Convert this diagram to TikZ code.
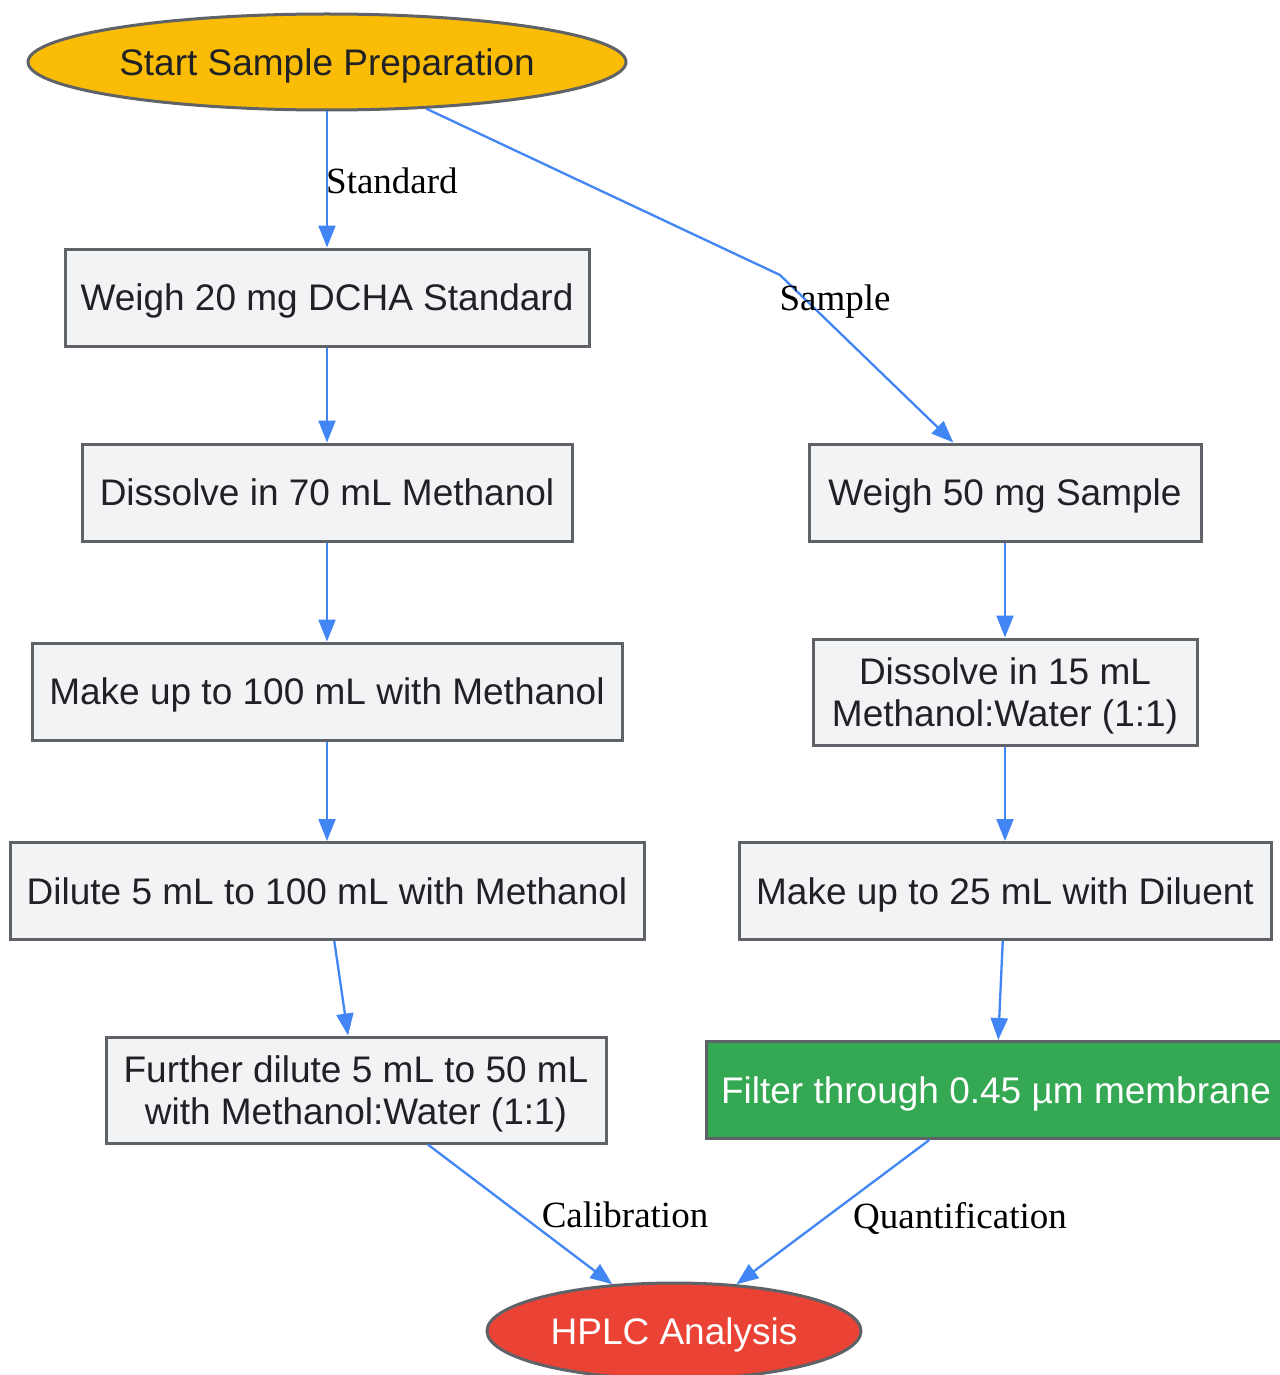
\documentclass[tikz,border=0pt]{standalone}
\usepackage{fontspec}
\setmainfont{Liberation Sans}
\newfontfamily\lblfont{Liberation Serif}
\usetikzlibrary{shapes.geometric,arrows.meta}
\definecolor{edgeblue}{HTML}{4285F4}
\definecolor{rimgray}{HTML}{5F6368}
\definecolor{boxfill}{HTML}{F1F3F4}
\definecolor{startfill}{HTML}{FBBC05}
\definecolor{endfill}{HTML}{EA4335}
\definecolor{filterfill}{HTML}{34A853}
\definecolor{txtdark}{HTML}{202124}
\tikzset{
  stepbox/.style={draw=rimgray, line width=3pt, fill=boxfill, text=txtdark,
    minimum height=97pt, align=center, inner sep=0pt, text depth=0pt,
    font=\fontsize{37}{42}\selectfont},
  endcap/.style={ellipse, draw=rimgray, line width=3pt, minimum height=96pt,
    inner sep=0pt, text depth=0pt, font=\fontsize{37}{42}\selectfont},
  lbl/.style={font=\lblfont\fontsize{37}{42}\selectfont, text=black, inner sep=0pt,
    text depth=0pt},
  flow/.style={->, draw=edgeblue, line width=2.3pt}
}
\begin{document}
\begin{tikzpicture}[x=1pt, y=-1pt, >={Triangle[length=22pt,width=17pt]}]
\useasboundingbox (0,0) rectangle (1279,1375);

% standard branch
\node[endcap, fill=startfill, text=txtdark, minimum width=598pt] (start) at (327,62) {Start Sample Preparation};
\node[stepbox, minimum width=524pt] (wstd) at (327,297.5) {Weigh 20 mg DCHA Standard};
\node[stepbox, minimum width=490pt] (dstd) at (327,492.5) {Dissolve in 70 mL Methanol};
\node[stepbox, minimum width=590pt] (mstd) at (327,691.5) {Make up to 100 mL with Methanol};
\node[stepbox, minimum width=634pt] (dilstd) at (327,891) {Dilute 5 mL to 100 mL with Methanol};
\node[stepbox, minimum width=500pt, minimum height=106pt] (fstd) at (356,1090) {Further dilute 5 mL to 50 mL\\with Methanol:Water (1:1)};

% sample branch
\node[stepbox, minimum width=392pt] (wsmp) at (1005,492.5) {Weigh 50 mg Sample};
\node[stepbox, minimum width=384pt, minimum height=106pt] (dsmp) at (1005,692) {Dissolve in 15 mL\\Methanol:Water (1:1)};
\node[stepbox, minimum width=532pt] (msmp) at (1005,891) {Make up to 25 mL with Diluent};
\node[stepbox, fill=filterfill, text=white, minimum width=580pt] (filt) at (996,1090) {Filter through 0.45 µm membrane};

\node[endcap, fill=endfill, text=white, minimum width=374pt] (hplc) at (674,1331) {HPLC Analysis};

\coordinate (sbend) at (780,275);

\draw[flow] (start) -- (wstd);
\draw[flow] (start) -- (sbend) -- (wsmp);
\draw[flow] (wstd) -- (dstd);
\draw[flow] (dstd) -- (mstd);
\draw[flow] (mstd) -- (dilstd);
\draw[flow] (dilstd) -- (fstd);
\draw[flow] (wsmp) -- (dsmp);
\draw[flow] (dsmp) -- (msmp);
\draw[flow] (msmp) -- (filt);
\draw[flow] (fstd) -- (hplc);
\draw[flow] (filt) -- (hplc);

\node[lbl, anchor=west] (lstd) at (326,181) {Standard};
\node[lbl] (lsmp) at (835,298) {Sample};
\node[lbl] (lcal) at (625,1215) {Calibration};
\node[lbl] (lqnt) at (960,1215) {Quantification};

\end{tikzpicture}
\end{document}
